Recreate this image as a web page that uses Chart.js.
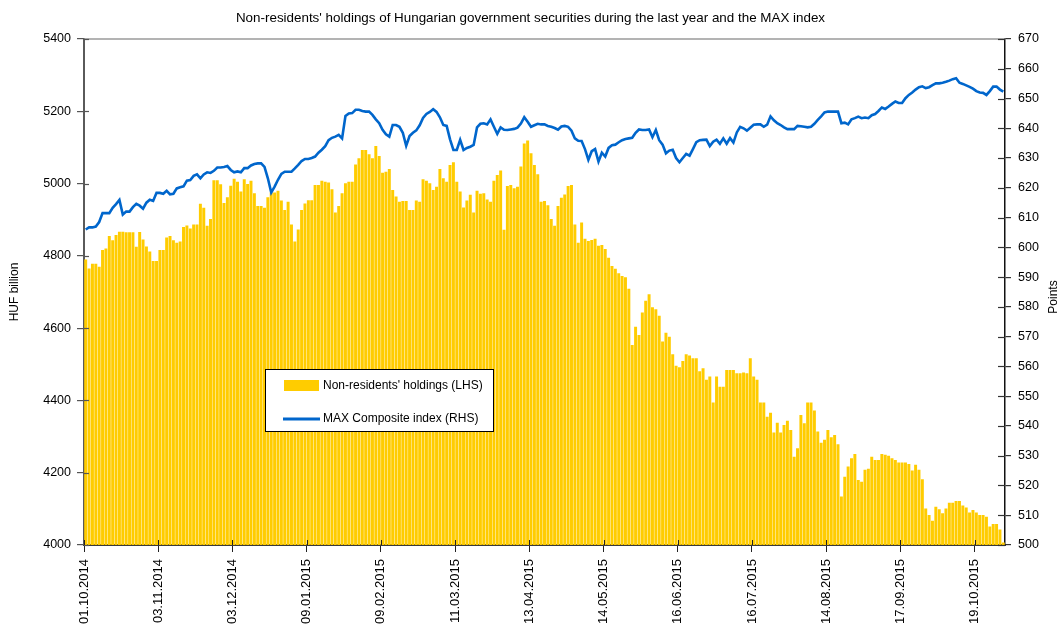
<!DOCTYPE html>
<html>
<head>
<meta charset="utf-8">
<script src="https://cdn.jsdelivr.net/npm/chart.js@4.4.1/dist/chart.umd.min.js"></script>
<style>
html,body{margin:0;padding:0;background:#fff;}
#wrap{width:1061px;height:625px;position:relative;}
</style>
</head>
<body>
<div id="wrap"><canvas id="c" width="1061" height="625"></canvas></div>
<script>
// ---- data ----
const chartTitle = "Non-residents' holdings of Hungarian government securities during the last year and the MAX index";
const seriesNames = ["Non-residents' holdings (LHS)", "MAX Composite index (RHS)"];
const axisTitles = ["HUF billion", "Points"];
const tickLabels = ["01.10.2014","03.11.2014","03.12.2014","09.01.2015","09.02.2015","11.03.2015","13.04.2015","14.05.2015","16.06.2015","16.07.2015","14.08.2015","17.09.2015","19.10.2015"];
const tickEvery = 22; // business days between labelled dates

// Non-residents' holdings, HUF billion (daily, LHS)
const holdings = [
4790,4765,4778,4778,4770,4816,4820,4855,4843,4858,4867,4867,4865,4865,4865,4825,4866,4845,4826,4812,4786,4786,4816,4816,4851,4855,4843,4836,4840,4880,4884,4876,4887,4887,4944,4933,4883,4902,5009,5009,4998,4946,4962,4994,5013,5005,
4978,5012,4999,5008,4973,4938,4938,4933,4962,4975,4975,4980,4953,4927,4950,4887,4840,4873,4927,4945,4954,4954,4996,4996,5008,5005,5003,4984,4920,4938,4973,5001,5005,5005,5053,5070,5093,5093,5081,5070,5104,5076,5030,5033,5040,4982,
4964,4950,4952,4952,4927,4927,4953,4950,5012,5008,5001,4982,4991,5040,5015,5005,5051,5059,5005,4978,4934,4953,4969,4920,4980,4972,4973,4956,4950,5008,5024,5036,4872,4993,4996,4987,4991,5047,5111,5119,5084,5051,5026,4950,4952,4940,
4902,4883,4938,4961,4970,4993,4996,4887,4836,4892,4847,4841,4844,4847,4828,4830,4819,4795,4772,4764,4752,4744,4741,4709,4553,4604,4581,4643,4676,4694,4658,4652,4634,4563,4587,4576,4528,4496,4492,4509,4528,4524,4517,4517,4481,4489,
4457,4466,4394,4466,4438,4438,4484,4484,4484,4475,4475,4477,4475,4517,4466,4457,4394,4394,4355,4366,4311,4338,4311,4332,4344,4318,4244,4268,4360,4337,4394,4394,4372,4314,4283,4291,4318,4298,4304,4279,4134,4189,4217,4240,4252,4180,
4175,4208,4211,4244,4235,4235,4252,4250,4247,4240,4235,4228,4228,4228,4224,4206,4222,4208,4182,4101,4083,4067,4106,4099,4088,4101,4117,4117,4122,4122,4109,4104,4090,4097,4090,4083,4083,4078,4051,4058,4058,4043,4007
];

// MAX Composite index, points (daily, RHS)
const maxIndex = [
606,606.7,606.7,607,608.5,611.5,611.5,611.5,613.3,614.5,615.9,611,612,612,613.5,614.6,614,613,615,616,615.6,618.3,618.3,618,619,617.8,618,619.8,620.2,620.5,622.4,622.6,624,624.5,623.2,624.5,625.2,625,625.7,626.8,626.8,627,627.3,626,625.2,625.5,
625.2,626.6,626.6,627.5,628,628.2,628.2,627,623.2,618.4,620.4,622.7,624.7,625.4,625.4,625.4,626.5,627.7,629,629.7,629.7,630,630.5,631.8,632.8,634,636,636.8,637.2,637.8,636.6,644.1,645,645.1,646.2,646.2,645.8,645.6,645.6,644.5,643,641.7,639.5,638,637.2,641.1,
641.1,640.5,638.5,634.1,637.4,638.5,639.3,641,643.5,644.8,645.5,646.4,645.5,643.7,641.1,640.8,636.3,632.7,632.7,636.1,632.7,633.4,633.8,634.4,640.3,641.5,641.7,641.3,643,640.5,638.1,640.3,639.5,639.4,639.6,639.8,640.2,641.6,643.7,642.2,640.5,641,641.5,641.3,641.3,640.8,
640.5,640.1,639.5,640.6,640.8,640.5,639.2,636.6,635.8,635.7,633,629.4,632.3,633,628.8,631.8,630.5,633.4,634.3,634.5,635.3,636,636.4,636.6,636.8,638.5,639.6,639.4,639.4,639.6,637,639.4,636,634.5,631.6,632.5,632.8,630,628.6,630,631.4,630.8,633,635.3,636,636.1,
636.2,634,635.5,636.2,634.8,636.6,634.8,636.7,635.2,638.6,640.5,640,639.2,640.2,641.2,641.3,641.3,640.5,641.2,644,642.7,641.7,641.1,640.3,639.7,639.7,639.7,640.8,640.7,640.5,640.3,640.5,641.5,642.8,644,645.3,645.6,645.6,645.6,645.6,641.7,641.9,641.3,643,643.4,643.9,
643.4,643.6,643.4,644.4,644.8,645.8,647,646.5,647.3,648.2,649,648.5,648.5,650.1,651.2,652,653,653.8,654.1,653.5,653.8,654.5,655.1,655.1,655.3,655.6,656,656.5,656.8,655.3,654.9,654.4,653.9,653.3,652.5,652,651.9,651.2,652.5,654,654,653,652.3
];

const leftAxis = {min: 4000, max: 5400, step: 200};
const rightAxis = {min: 500, max: 670, step: 10};

// ---- chart ----
const FONT = "'Liberation Sans', Arial, sans-serif";
const BAR = '#FFCC00';
const LINE = '#0066CC';

const categories = holdings.map((_, i) => (i % tickEvery === 0 && tickLabels[i / tickEvery]) ? tickLabels[i / tickEvery] : '');

function seg(ctx, x1, y1, x2, y2) { ctx.beginPath(); ctx.moveTo(x1, y1); ctx.lineTo(x2, y2); ctx.stroke(); }

const decor = {
  id: 'decor',
  afterDraw(chart) {
    const ctx = chart.ctx, a = chart.chartArea, s = chart.scales;
    ctx.save();
    // top frame line
    ctx.strokeStyle = '#9a9a9a'; ctx.lineWidth = 1.5;
    seg(ctx, a.left, a.top, a.right, a.top);
    // inner halves of the cross ticks
    ctx.strokeStyle = '#555'; ctx.lineWidth = 1.2;
    for (let v = leftAxis.min; v <= leftAxis.max; v += leftAxis.step) {
      const y = Math.round(s.y.getPixelForValue(v)) + 0.5;
      seg(ctx, a.left, y, a.left + 5, y);
    }
    ctx.strokeStyle = '#333';
    for (let v = rightAxis.min; v <= rightAxis.max; v += rightAxis.step) {
      const y = Math.round(s.y1.getPixelForValue(v)) + 0.5;
      seg(ctx, a.right - 7, y, a.right, y);
    }
    const half = (s.x.getPixelForValue(1) - s.x.getPixelForValue(0)) / 2;
    ctx.strokeStyle = '#222'; ctx.lineWidth = 1;
    categories.forEach((c, i) => {
      if (!c) return;
      const x = Math.round(s.x.getPixelForValue(i) - half) + 0.5;
      seg(ctx, x, a.bottom - 5, x, a.bottom);
    });
    // axis titles
    ctx.fillStyle = '#000'; ctx.font = '12px ' + FONT;
    ctx.textAlign = 'center'; ctx.textBaseline = 'middle';
    const mid = (a.top + a.bottom) / 2;
    ctx.save(); ctx.translate(15, mid); ctx.rotate(-Math.PI / 2); ctx.fillText(axisTitles[0], 0, 0); ctx.restore();
    ctx.save(); ctx.translate(1054, mid + 5); ctx.rotate(-Math.PI / 2); ctx.fillText(axisTitles[1], 0, 0); ctx.restore();
    // legend box
    const lx = 265.5, ly = 369.5, lw = 228, lh = 62;
    ctx.fillStyle = '#fff'; ctx.fillRect(lx, ly, lw, lh);
    ctx.strokeStyle = '#000'; ctx.lineWidth = 1; ctx.strokeRect(lx, ly, lw, lh);
    ctx.fillStyle = BAR; ctx.fillRect(284, 380, 35, 11);
    ctx.strokeStyle = LINE; ctx.lineWidth = 3; seg(ctx, 283, 419, 320, 419);
    ctx.fillStyle = '#000'; ctx.textAlign = 'left'; ctx.font = '12px ' + FONT;
    ctx.fillText(seriesNames[0], 323, 386);
    ctx.fillText(seriesNames[1], 323, 419);
    ctx.restore();
  }
};

new Chart(document.getElementById('c'), {
  data: {
    labels: categories,
    datasets: [
      { type: 'line', label: seriesNames[1], data: maxIndex, yAxisID: 'y1', borderColor: LINE, borderWidth: 2.6, pointRadius: 0, tension: 0, order: 1 },
      { type: 'bar', label: seriesNames[0], data: holdings, yAxisID: 'y', backgroundColor: BAR, borderWidth: 0, categoryPercentage: 1, barPercentage: 0.88, order: 2 }
    ]
  },
  options: {
    responsive: false,
    animation: false,
    layout: { padding: 0 },
    plugins: {
      legend: { display: false },
      tooltip: { enabled: false },
      title: { display: true, text: chartTitle, color: '#000', font: { family: FONT, size: 13.4, weight: 'normal' }, padding: { top: 10, bottom: 12.9 } }
    },
    scales: {
      x: {
        type: 'category', offset: true,
        grid: { display: true, drawOnChartArea: false, offset: true, tickLength: 7, lineWidth: 1,
                color: (c) => categories[c.index] ? '#222' : 'rgba(0,0,0,0)' },
        border: { display: true, color: '#3a3a3a', width: 2 },
        ticks: { autoSkip: false, maxRotation: 90, minRotation: 90, padding: 7, labelOffset: -1.7,
                 color: '#000', font: { family: FONT, size: 13 } },
        afterFit(sc) { sc.height = 80; }
      },
      y: {
        type: 'linear', position: 'left', min: leftAxis.min, max: leftAxis.max,
        ticks: { stepSize: leftAxis.step, padding: 6, color: '#000', font: { family: FONT, size: 12.5 },
                 callback: (v) => String(v) },
        grid: { drawOnChartArea: false, tickLength: 7, color: '#555', lineWidth: 1.2 },
        border: { color: '#5a5a5a', width: 2 },
        afterFit(sc) { sc.width = 84; }
      },
      y1: {
        type: 'linear', position: 'right', min: rightAxis.min, max: rightAxis.max,
        ticks: { stepSize: rightAxis.step, padding: 7, color: '#000', font: { family: FONT, size: 12.5 },
                 callback: (v) => String(v) },
        grid: { drawOnChartArea: false, tickLength: 6, color: '#333', lineWidth: 1.2 },
        border: { color: '#111', width: 1.5 },
        afterFit(sc) { sc.width = 56; }
      }
    }
  },
  plugins: [decor]
});
</script>
</body>
</html>
